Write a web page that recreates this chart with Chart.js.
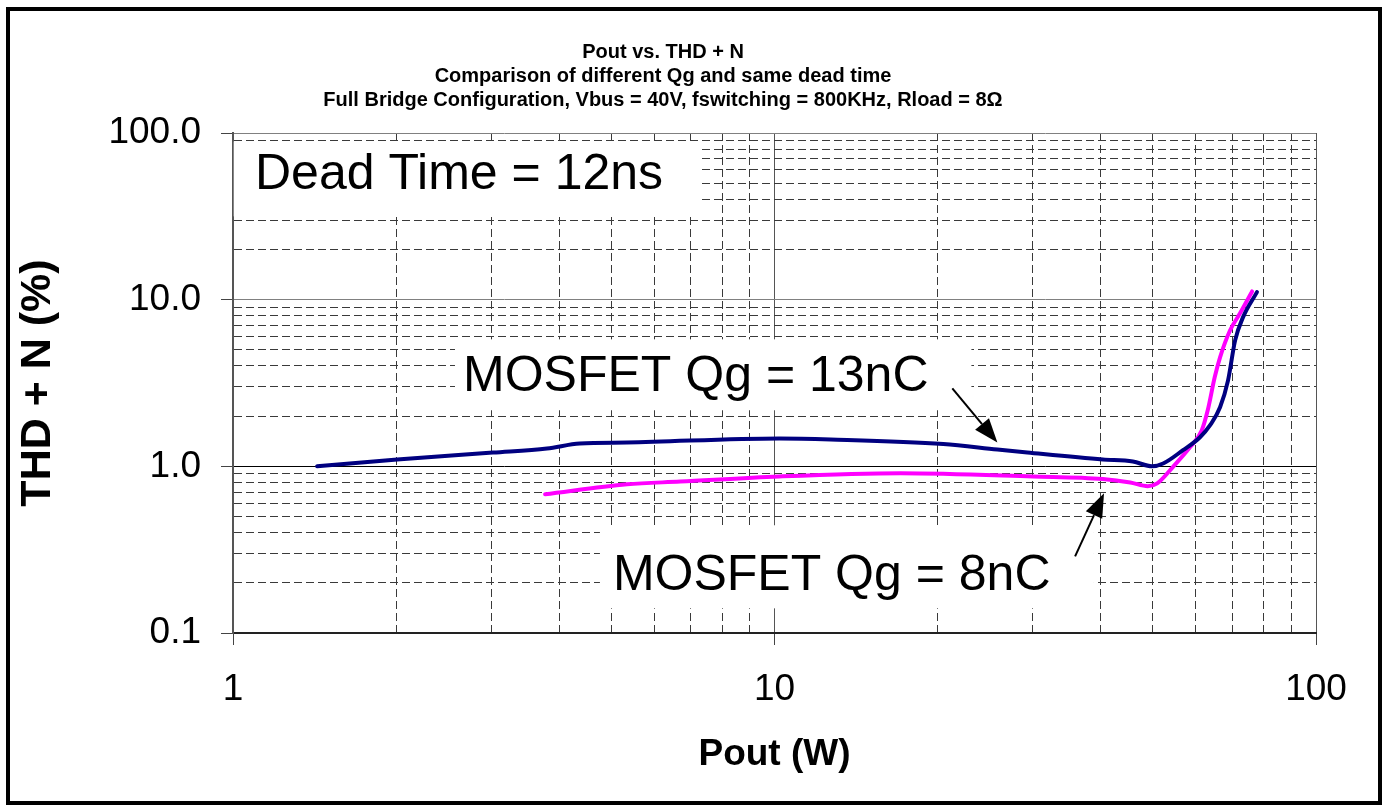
<!DOCTYPE html>
<html>
<head>
<meta charset="utf-8">
<title>Pout vs. THD + N</title>
<script src="https://cdn.jsdelivr.net/npm/chart.js@4.4.1/dist/chart.umd.min.js"></script>
<style>
    html, body { margin: 0; padding: 0; background: #fff; }
    #wrap { position: relative; width: 1385px; height: 810px; }
    #frame {
        position: absolute; left: 6px; top: 7px; width: 1376px; height: 798px;
        border: 4px solid #000; box-sizing: border-box; pointer-events: none;
    }
    canvas { position: absolute; left: 0; top: 0; }
</style>
</head>
<body>
<div id="wrap">
    <canvas id="thdChart" width="1385" height="810"></canvas>
    <div id="frame"></div>
</div>
<script>
// MOSFET Qg = 13nC
const qg13Pout = [1.43, 2.01, 3.02, 3.80, 4.37, 5.34, 10.2, 12.7, 20.5, 25.8, 29.3, 40.4, 45.9, 49.8, 52.2, 56.8, 61.0, 63.7, 66.5, 68.8, 70.9, 73.3, 77.8];
const qg13Thd  = [1.00, 1.10, 1.21, 1.28, 1.37, 1.39, 1.47, 1.45, 1.36, 1.26, 1.21, 1.10, 1.07, 1.00, 1.04, 1.25, 1.49, 1.76, 2.26, 3.28, 5.70, 7.83, 11.1];

// MOSFET Qg = 8nC
const qg8Pout = [3.77, 5.34, 6.7, 10.2, 17.1, 30.0, 40.4, 45.4, 48.9, 50.9, 54.4, 58.5, 61.5, 63.1, 65.0, 66.5, 69.4, 72.4, 76.2];
const qg8Thd  = [0.68, 0.78, 0.81, 0.87, 0.91, 0.87, 0.84, 0.80, 0.76, 0.79, 0.99, 1.30, 1.64, 2.17, 3.42, 4.51, 6.55, 8.28, 11.2];

// axis ticks (every step gets a grid line, only decades get a label)
const xTicks = [1, 2, 3, 4, 5, 6, 7, 8, 9, 10, 20, 30, 40, 50, 60, 70, 80, 90, 100];
const yTicks = [0.1, 0.2, 0.3, 0.4, 0.5, 0.6, 0.7, 0.8, 0.9, 1, 2, 3, 4, 5, 6, 7, 8, 9, 10, 20, 30, 40, 50, 60, 70, 80, 90, 100];
const xMajor = [1, 10, 100];
const xLabels = ['1', '10', '100'];
const yMajor = [0.1, 1, 10, 100];
const yLabels = ['0.1', '1.0', '10.0', '100.0'];

const titleLines = [
    'Pout vs. THD + N',
    'Comparison of different Qg and same dead time',
    'Full Bridge Configuration, Vbus = 40V, fswitching = 800KHz, Rload = 8\u03A9'
];

const FONT = '"Liberation Sans", Arial, Helvetica, sans-serif';
Chart.defaults.font.family = FONT;
Chart.defaults.color = '#000';

// text boxes on the plot, in data coordinates (white fill hides the grid)
const notes = [
    { text: 'Dead Time = 12ns',  x: 1.098, y: 45.9,  box: [1.003, 7.3, 89, 31.6] },
    { text: 'MOSFET Qg = 13nC',  x: 2.66,  y: 2.82,  box: [2.57, 23.1, 5.78, 2.17] },
    { text: 'MOSFET Qg = 8nC',   x: 5.03,  y: 0.180, box: [4.76, 38.9, 0.443, 0.1406] }
];
const arrows = [
    { from: [21.3, 2.94], to: [25.8, 1.39] },
    { from: [35.9, 0.288], to: [40.6, 0.689] }
];

const notesPlugin = {
    id: 'notes',
    beforeDatasetsDraw(chart) {
        const { ctx, scales: { x, y } } = chart;
        ctx.save();
        notes.forEach(n => {
            const [x0, x1, y0, y1] = n.box;
            const l = x.getPixelForValue(x0), r = x.getPixelForValue(x1);
            const t = y.getPixelForValue(y0), b = y.getPixelForValue(y1);
            ctx.fillStyle = '#fff';
            ctx.fillRect(l, t, r - l, b - t);
            ctx.fillStyle = '#000';
            ctx.font = '50px ' + FONT;
            ctx.textBaseline = 'alphabetic';
            ctx.textAlign = 'left';
            ctx.fillText(n.text, x.getPixelForValue(n.x), y.getPixelForValue(n.y));
        });
        ctx.restore();
    },
    afterDatasetsDraw(chart) {
        const { ctx, scales: { x, y } } = chart;
        ctx.save();
        ctx.strokeStyle = '#000';
        ctx.fillStyle = '#000';
        ctx.lineWidth = 2;
        arrows.forEach(a => {
            const x1 = x.getPixelForValue(a.from[0]), y1 = y.getPixelForValue(a.from[1]);
            const x2 = x.getPixelForValue(a.to[0]), y2 = y.getPixelForValue(a.to[1]);
            const ang = Math.atan2(y2 - y1, x2 - x1);
            const len = 24, half = 9;
            const bx = x2 - len * Math.cos(ang), by = y2 - len * Math.sin(ang);
            ctx.beginPath();
            ctx.moveTo(x1, y1);
            ctx.lineTo(bx, by);
            ctx.stroke();
            ctx.beginPath();
            ctx.moveTo(x2, y2);
            ctx.lineTo(bx + half * Math.sin(ang), by - half * Math.cos(ang));
            ctx.lineTo(bx - half * Math.sin(ang), by + half * Math.cos(ang));
            ctx.closePath();
            ctx.fill();
        });
        ctx.restore();
    }
};

function toPoints(xs, ys) {
    return xs.map((v, i) => ({ x: v, y: ys[i] }));
}

function gridFor(majors, majorColor) {
    const isMajor = c => c.tick && majors.includes(c.tick.value);
    return {
        grid: {
            color: c => isMajor(c) ? majorColor(c.tick.value) : '#3a3a3a',
            lineWidth: 1,
            tickLength: 12,
            tickColor: c => isMajor(c) ? '#444' : 'rgba(0,0,0,0)'
        },
        border: {
            dash: c => (c.tick && !isMajor(c)) ? [8, 4] : [],
            width: 2
        }
    };
}

const xGrid = gridFor(xMajor, () => '#555');
const yGrid = gridFor(yMajor, v => v === 1 ? '#000' : '#808080');

new Chart(document.getElementById('thdChart'), {
    type: 'scatter',
    data: {
        datasets: [
            {
                label: 'MOSFET Qg = 13nC',
                data: toPoints(qg13Pout, qg13Thd),
                borderColor: '#000080',
                backgroundColor: '#000080',
                borderWidth: 4,
                showLine: true,
                pointRadius: 0,
                cubicInterpolationMode: 'monotone',
                borderCapStyle: 'round'
            },
            {
                label: 'MOSFET Qg = 8nC',
                data: toPoints(qg8Pout, qg8Thd),
                borderColor: '#ff00ff',
                backgroundColor: '#ff00ff',
                borderWidth: 4,
                showLine: true,
                pointRadius: 0,
                cubicInterpolationMode: 'monotone',
                borderCapStyle: 'round'
            }
        ]
    },
    options: {
        responsive: false,
        animation: false,
        devicePixelRatio: 1,
        layout: { padding: { top: 40, left: 10, right: 69, bottom: 10 } },
        plugins: {
            legend: { display: false },
            tooltip: { enabled: false },
            title: {
                display: true,
                text: titleLines,
                color: '#000',
                font: { size: 20, weight: 'bold', lineHeight: 1.2 },
                padding: { top: 0, bottom: 21 }
            }
        },
        scales: {
            x: {
                type: 'logarithmic',
                min: 1,
                max: 100,
                afterBuildTicks: axis => { axis.ticks = xTicks.map(v => ({ value: v })); },
                afterFit: axis => { axis.height = 167; },
                ticks: {
                    autoSkip: false,
                    maxRotation: 0,
                    padding: 23,
                    font: { size: 37 },
                    color: '#000',
                    callback: v => { const i = xMajor.indexOf(v); return i >= 0 ? xLabels[i] : ''; }
                },
                title: {
                    display: true,
                    text: 'Pout (W)',
                    color: '#000',
                    font: { size: 37, weight: 'bold' },
                    padding: { top: 0, bottom: 23 }
                },
                grid: xGrid.grid,
                border: Object.assign({ color: '#222' }, xGrid.border)
            },
            y: {
                type: 'logarithmic',
                min: 0.1,
                max: 100,
                afterBuildTicks: axis => { axis.ticks = yTicks.map(v => ({ value: v })); },
                afterFit: axis => { axis.width = 223; },
                ticks: {
                    autoSkip: false,
                    padding: 20,
                    font: { size: 37 },
                    color: '#000',
                    callback: v => { const i = yMajor.indexOf(v); return i >= 0 ? yLabels[i] : ''; }
                },
                title: {
                    display: true,
                    text: 'THD + N (%)',
                    color: '#000',
                    font: { size: 43, weight: 'bold', lineHeight: 1.1 },
                    padding: { top: 4, bottom: 0 }
                },
                grid: yGrid.grid,
                border: Object.assign({ color: '#555' }, yGrid.border)
            }
        }
    },
    plugins: [notesPlugin]
});
</script>
</body>
</html>
